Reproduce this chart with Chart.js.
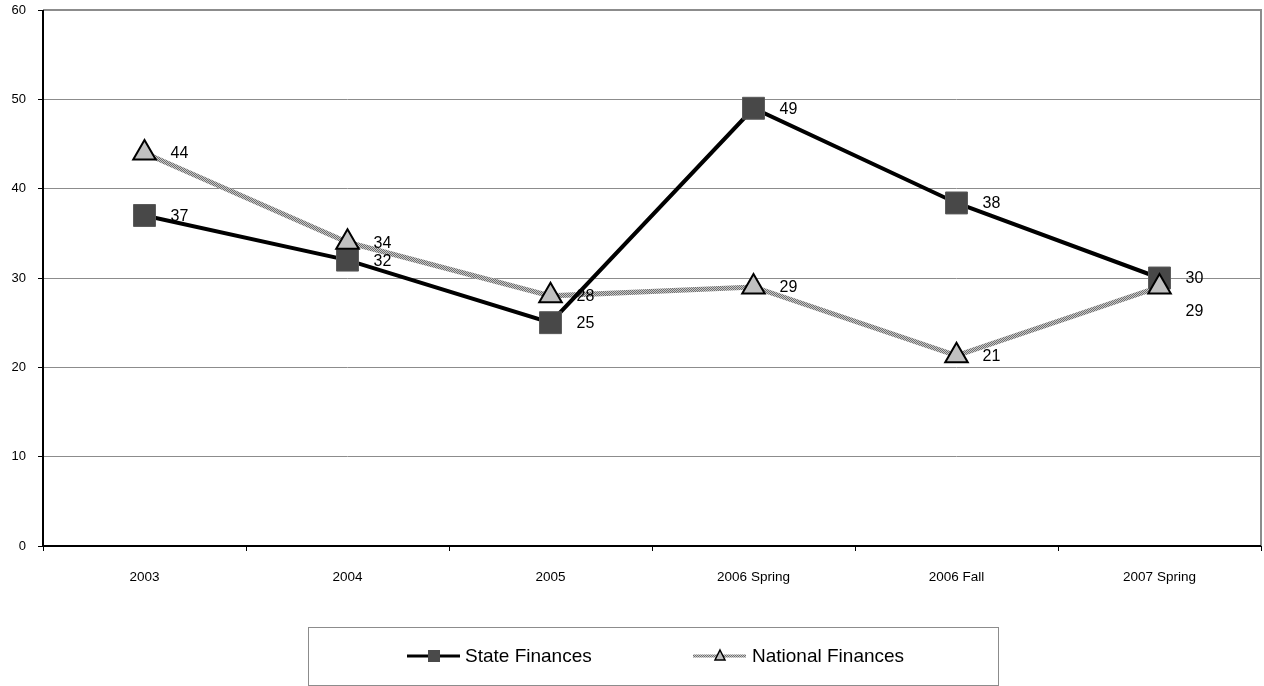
<!DOCTYPE html>
<html>
<head>
<meta charset="utf-8">
<script src="https://cdn.jsdelivr.net/npm/chart.js@4/dist/chart.umd.min.js"></script>
<style>
  html, body { margin: 0; padding: 0; background: #fff; overflow: hidden; }
  #wrap { width: 1264px; height: 686px; position: relative; }
  canvas { display: block; }
</style>
</head>
<body>
<div id="wrap"><canvas id="grafico"></canvas></div>
<script>
// dados do gráfico
const categorias = ["2003", "2004", "2005", "2006 Spring", "2006 Fall", "2007 Spring"];
const estadual = [37, 32, 25, 49, 38.4, 30];
const nacional = [44, 34, 28, 29, 21.3, 29];
const rotulosEstadual = ["37", "32", "25", "49", "38", "30"];
const rotulosNacional = ["44", "34", "28", "29", "21", "29"];
const nomesSeries = ["State Finances", "National Finances"];
const ticksY = [0, 10, 20, 30, 40, 50, 60];

const FONTE = "'Liberation Sans', Arial, sans-serif";

// textura cinza da linha nacional
function criarPadrao() {
  const c = document.createElement("canvas");
  c.width = 2; c.height = 2;
  const g = c.getContext("2d");
  g.fillStyle = "#c8c8c8"; g.fillRect(0, 0, 2, 2);
  g.fillStyle = "#6e6e6e"; g.fillRect(0, 0, 1, 1); g.fillRect(1, 1, 1, 1);
  return g.createPattern(c, "repeat");
}
const padrao = criarPadrao();

// rótulos dos valores, à direita de cada ponto (datasets 0 e 1 são as linhas)
const pluginRotulos = {
  id: "rotulos",
  afterDatasetsDraw(chart) {
    const ctx = chart.ctx;
    ctx.save();
    ctx.font = "16px " + FONTE;
    ctx.fillStyle = "#000";
    ctx.textAlign = "left";
    ctx.textBaseline = "middle";
    const listas = [rotulosEstadual, rotulosNacional];
    [0, 1].forEach(i => {
      const meta = chart.getDatasetMeta(i);
      meta.data.forEach((p, j) => {
        let dy = 1;
        // o último ponto nacional fica sob o estadual; rótulo vai abaixo
        if (i === 1 && j === meta.data.length - 1) dy = 25;
        ctx.fillText(listas[i][j], p.x + 26, p.y + dy);
      });
    });
    ctx.restore();
  }
};

// moldura da área do gráfico e legenda em caixa
const pluginMoldura = {
  id: "moldura",
  beforeDatasetsDraw(chart) {
    const a = chart.chartArea;
    const ctx = chart.ctx;
    ctx.save();
    ctx.strokeStyle = "#8c8c8c";
    ctx.lineWidth = 2;
    ctx.beginPath();
    ctx.moveTo(a.left, a.top);
    ctx.lineTo(a.right, a.top);
    ctx.lineTo(a.right, a.bottom);
    ctx.stroke();
    ctx.strokeStyle = "#000";
    ctx.beginPath();
    ctx.moveTo(a.left, a.top);
    ctx.lineTo(a.left, a.bottom);
    ctx.lineTo(a.right, a.bottom);
    ctx.stroke();
    ctx.restore();
  },
  afterDraw(chart) {
    const ctx = chart.ctx;
    ctx.save();
    ctx.strokeStyle = "#8c8c8c";
    ctx.lineWidth = 1;
    ctx.strokeRect(308.5, 627.5, 690, 58);
    const y = 656;
    // State
    ctx.strokeStyle = "#000";
    ctx.lineWidth = 3;
    ctx.beginPath(); ctx.moveTo(407, y); ctx.lineTo(460, y); ctx.stroke();
    ctx.fillStyle = "#4a4a4a";
    ctx.fillRect(428, y - 6, 12, 12);
    // National
    ctx.strokeStyle = padrao;
    ctx.lineWidth = 3;
    ctx.beginPath(); ctx.moveTo(693, y); ctx.lineTo(746, y); ctx.stroke();
    ctx.fillStyle = "#c0c0c0";
    ctx.strokeStyle = "#000";
    ctx.lineWidth = 1.5;
    ctx.beginPath();
    ctx.moveTo(720, y - 6); ctx.lineTo(725, y + 4); ctx.lineTo(715, y + 4); ctx.closePath();
    ctx.fill(); ctx.stroke();
    ctx.fillStyle = "#000";
    ctx.font = "19px " + FONTE;
    ctx.textBaseline = "middle";
    ctx.fillText(nomesSeries[0], 465, y + 1);
    ctx.fillText(nomesSeries[1], 752, y + 1);
    ctx.restore();
  }
};

const ctx = document.getElementById("grafico").getContext("2d");
window.grafico = new Chart(ctx, {
  type: "line",
  data: {
    labels: categorias,
    datasets: [{
      // linha estadual
      label: nomesSeries[0],
      data: estadual,
      borderColor: "#000",
      borderWidth: 4,
      pointRadius: 0,
      tension: 0,
      order: 3
    }, {
      // linha nacional
      label: nomesSeries[1],
      data: nacional,
      borderColor: padrao,
      borderWidth: 5,
      pointRadius: 0,
      tension: 0,
      order: 4
    }, {
      // marcadores estaduais
      label: nomesSeries[0],
      data: estadual,
      showLine: false,
      pointStyle: "rect",
      pointRadius: 15.5,
      pointBackgroundColor: "#484848",
      pointBorderColor: "#5a5a5a",
      pointBorderWidth: 1,
      order: 2
    }, {
      // marcadores nacionais
      label: nomesSeries[1],
      data: nacional,
      showLine: false,
      pointStyle: "triangle",
      pointRadius: 13,
      pointBackgroundColor: "#c0c0c0",
      pointBorderColor: "#000",
      pointBorderWidth: 2,
      order: 1
    }]
  },
  options: {
    responsive: true,
    maintainAspectRatio: false,
    animation: false,
    layout: { autoPadding: false, padding: { top: 10, right: 3, bottom: 0, left: 0 } },
    plugins: {
      legend: { display: false },
      tooltip: { enabled: false }
    },
    scales: {
      x: {
        offset: true,
        grid: { offset: true, drawOnChartArea: false, drawTicks: true, tickLength: 5, color: "#000" },
        border: { display: false },
        ticks: { color: "#000", font: { family: FONTE, size: 13.5 }, padding: 18, maxRotation: 0 },
        afterFit: s => { s.height = 140; s.paddingLeft = 0; s.paddingRight = 0; }
      },
      y: {
        min: 0,
        max: 60,
        afterBuildTicks: s => { s.ticks = ticksY.map(v => ({ value: v })); },
        grid: { color: "#8c8c8c", lineWidth: 1, tickLength: 5, tickColor: "#000" },
        border: { display: false },
        ticks: { color: "#000", font: { family: FONTE, size: 13 }, padding: 12 },
        afterFit: s => { s.width = 43; s.paddingTop = 0; s.paddingBottom = 0; }
      }
    }
  },
  plugins: [pluginMoldura, pluginRotulos]
});
</script>
</body>
</html>
